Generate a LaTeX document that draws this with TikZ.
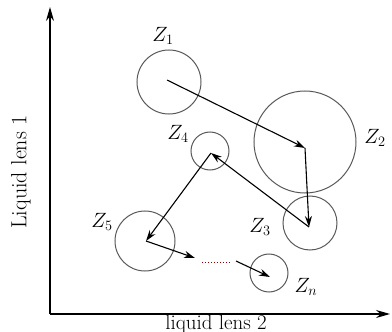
\documentclass[tikz,border=0pt]{standalone}
\usepackage{fontspec}
\usetikzlibrary{arrows.meta}

\begin{document}
\begin{tikzpicture}[
    x=1bp, y=1bp,
    lens/.style={circle, draw=black!65, line width=1bp, inner sep=0pt},
    axis/.style={draw, -{Stealth[length=14bp, width=8bp]}, line width=1.2bp},
    move/.style={draw, -{Stealth[length=11bp, width=7bp]}, line width=1.1bp},
    lbl/.style={font=\fontsize{22}{26}\selectfont, inner sep=0pt},
    dots/.style={draw=red!55!black, dotted, line width=1bp}
]
\useasboundingbox (0,0) rectangle (392,332);

% --- Axes ---
\coordinate (O) at (50,18);
\coordinate (ytop) at (50,325);
\coordinate (xend) at (390,18);
\draw[axis] (O) -- (ytop);
\draw[axis] (O) -- (xend);
\node[lbl, rotate=90] (ylab) at (21,160) {Liquid lens 1};
\node[lbl, anchor=base, font=\fontsize{21}{25}\selectfont] (xlab) at (216,3) {liquid lens 2};

% --- Lenses ---
\node[lens, minimum size=64bp] (z1) at (169,250) {};
\node[lens, minimum size=102bp] (z2) at (305,190) {};
\node[lens, minimum size=54bp] (z3) at (310,109) {};
\node[lens, minimum size=38bp] (z4) at (210,181) {};
\node[lens, minimum size=60bp] (z5) at (145,91) {};
\node[lens, minimum size=38bp] (zn) at (269,59) {};

\node[lbl] (l1) at (163,296) {$Z_1$};
\node[lbl] (l2) at (375,194) {$Z_2$};
\node[lbl] (l3) at (260,105) {$Z_3$};
\node[lbl] (l4) at (178,198) {$Z_4$};
\node[lbl] (l5) at (102,110) {$Z_5$};
\node[lbl] (ln) at (306,45) {$Z_n$};

% --- Path points ---
\coordinate (p1) at (167,252);
\coordinate (p2) at (305,184);
\coordinate (p3) at (309,105);
\coordinate (p4) at (211,179);
\coordinate (p5) at (146,91);
\coordinate (q1) at (195,74);
\coordinate (d1) at (202,69);
\coordinate (d2) at (231,69);
\coordinate (q2) at (236,71);
\coordinate (pn) at (270,55);

\draw[move] (p1) -- (p2);
\draw[move] (p2) -- (p3);
\draw[move] (p3) -- (p4);
\draw[move] (p4) -- (p5);
\draw[move] (p5) -- (q1);
\draw[dots] (d1) -- (d2);
\draw[move] (q2) -- (pn);

\end{tikzpicture}
\end{document}
